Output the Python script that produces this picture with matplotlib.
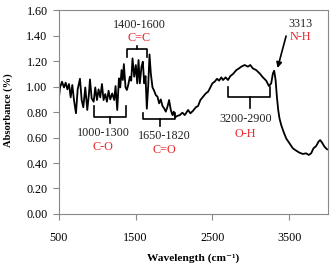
import matplotlib
matplotlib.use("Agg")
import matplotlib.pyplot as plt

wavenumber = [500, 517, 543, 569, 591, 613, 634, 656, 677, 699, 725, 747, 777, 799, 820, 846, 872, 894, 907, 929,
              955, 976, 998, 1019, 1041, 1063, 1084, 1106, 1128, 1149, 1171, 1197, 1223, 1240, 1262, 1284, 1301,
              1318, 1335, 1348, 1370, 1387, 1405, 1426, 1444, 1461, 1483, 1504, 1522, 1539, 1556, 1578, 1595,
              1613, 1630, 1647, 1665, 1682, 1699, 1721, 1738, 1764, 1786, 1807, 1829, 1851, 1872, 1894, 1916,
              1937, 1959, 1981, 1998, 2015, 2041, 2076, 2110, 2141, 2184, 2214, 2249, 2284, 2314, 2344, 2379,
              2414, 2444, 2474, 2500, 2530, 2561, 2587, 2617, 2639, 2673, 2703, 2734, 2768, 2812, 2846, 2877,
              2920, 2963, 2993, 3028, 3071, 3115, 3158, 3201, 3236, 3266, 3288, 3305, 3323, 3340, 3357, 3374,
              3396, 3426, 3461, 3504, 3548, 3591, 3634, 3677, 3721, 3755, 3786, 3816, 3851, 3881, 3903, 3929,
              3959, 3994]
absorbance = [0.894, 0.993, 1.038, 0.993, 1.030, 0.978, 1.020, 0.915, 1.012, 0.894, 0.790, 0.978, 1.061, 0.894,
              0.837, 0.993, 0.816, 0.946, 1.056, 0.907, 0.881, 0.993, 0.894, 0.978, 0.915, 1.020, 0.894, 0.941,
              0.881, 0.967, 0.899, 0.946, 0.894, 1.004, 0.816, 1.064, 0.993, 1.129, 1.051, 1.176, 0.993, 0.973,
              1.012, 1.077, 1.046, 1.221, 1.077, 1.169, 1.025, 1.208, 1.025, 1.156, 1.195, 1.025, 1.082, 0.826,
              1.004, 1.252, 1.103, 0.993, 0.973, 0.933, 0.920, 0.868, 0.899, 0.847, 0.829, 0.803, 0.842, 0.894,
              0.816, 0.776, 0.803, 0.758, 0.769, 0.776, 0.795, 0.776, 0.816, 0.790, 0.810, 0.837, 0.847, 0.894,
              0.920, 0.946, 0.959, 0.993, 1.025, 1.038, 1.061, 1.046, 1.072, 1.051, 1.072, 1.051, 1.082, 1.098,
              1.129, 1.142, 1.156, 1.169, 1.156, 1.169, 1.142, 1.129, 1.103, 1.072, 1.046, 1.004, 1.025, 1.103,
              1.124, 1.051, 0.920, 0.816, 0.750, 0.698, 0.646, 0.593, 0.554, 0.515, 0.497, 0.481, 0.471, 0.476,
              0.463, 0.476, 0.515, 0.533, 0.567, 0.580, 0.559, 0.528, 0.507]

x_ticks = [500, 1500, 2500, 3500]
y_ticks = [0.0, 0.2, 0.4, 0.6, 0.8, 1.0, 1.2, 1.4, 1.6]

# annotation data
ann_labels = ["1400-1600", "1000-1300", "1650-1820", "3200-2900", "3313"]
ann_groups = ["C=C", "C-O", "C=O", "O-H", "N-H"]
ann_x = [1543, 1077, 1880, 2932, 3647]
ann_y_range = [1.48, 0.635, 0.608, 0.745, 1.49]
ann_y_group = [1.38, 0.528, 0.502, 0.627, 1.386]

# brackets
br_x0 = [1387, 962, 1599, 2708]
br_x1 = [1647, 1374, 2010, 3253]
br_bar = [1.294, 0.763, 0.743, 0.915]
br_end = [1.234, 0.847, 0.795, 0.994]
br_tx = [1517, 1166, 1825, 2984]
br_ty = [1.317, 0.713, 0.69, 0.83]

serif = ["Liberation Serif", "DejaVu Serif"]
plt.rcParams["font.family"] = serif

fig = plt.figure(figsize=(3.36, 2.65), dpi=100)
ax = fig.add_axes([0.1747, 0.1925, 0.8003, 0.7695])
ax.plot(wavenumber, absorbance, color="black", lw=1.3)
ax.set_xlim(500, 4000)
ax.set_ylim(0, 1.6)
ax.set_xticks(x_ticks)
ax.set_xticklabels([str(v) for v in x_ticks])
ax.set_yticks(y_ticks)
ax.set_yticklabels([f"{v:.2f}" for v in y_ticks])
ax.tick_params(axis="both", labelsize=8.7, direction="out", length=4, width=0.8, color="#888888", pad=4)
ax.tick_params(axis="x", pad=9)
for s in ax.spines.values():
    s.set_color("#888888")
    s.set_linewidth(0.8)

ax.set_ylabel("Absorbance (%)", fontsize=7.6, fontweight="bold")
ax.yaxis.set_label_coords(-0.189, 0.51)
ax.set_xlabel("Wavelength (cm⁻¹)", fontsize=8.2, fontweight="bold")
ax.xaxis.set_label_coords(0.5, -0.216)
ax.xaxis.label.set_va("center")
ax.yaxis.label.set_va("center")

for i in range(len(ann_labels)):
    ax.text(ann_x[i], ann_y_range[i], ann_labels[i], ha="center", va="center", fontsize=8.7, color="#222222")
    ax.text(ann_x[i], ann_y_group[i], ann_groups[i], ha="center", va="center", fontsize=8.7, color="#e8262a")

for i in range(len(br_x0)):
    ax.plot([br_x0[i], br_x0[i], br_x1[i], br_x1[i]], [br_end[i], br_bar[i], br_bar[i], br_end[i]],
            color="black", lw=1.2)
    ax.plot([br_tx[i], br_tx[i]], [br_bar[i], br_ty[i]], color="black", lw=1.2)

ax.annotate("", xy=(3339, 1.124), xytext=(3469, 1.417),
            arrowprops=dict(arrowstyle="-|>", color="black", lw=1.2, mutation_scale=8))

fig.savefig("out.png", dpi=100)
